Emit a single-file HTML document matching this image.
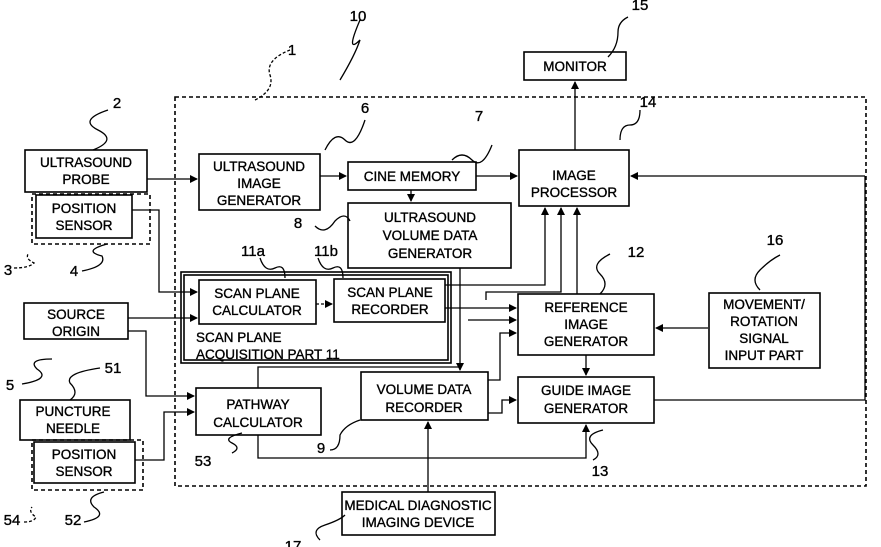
<!DOCTYPE html>
<html><head><meta charset="utf-8"><style>
html,body{margin:0;padding:0;background:#fff;}
svg{display:block}
text{font-family:"Liberation Sans",Arial,sans-serif;font-size:13.5px;fill:#000;stroke:#000;stroke-width:0.35;text-anchor:middle}
.n{font-size:15px}
</style></head><body>
<svg width="881" height="547" viewBox="0 0 881 547" xmlns="http://www.w3.org/2000/svg">
<defs><marker id="a" markerWidth="8" markerHeight="8" refX="7" refY="4" orient="auto" markerUnits="userSpaceOnUse"><path d="M0,0 L8,4 L0,8 z" fill="#000"/></marker></defs>
<g fill="none" stroke="#000" stroke-width="1.6">
<rect x="175" y="97" width="691" height="389" stroke-dasharray="4,3"/>
<rect x="32" y="194" width="118" height="50" stroke-dasharray="4,3"/>
<rect x="32" y="440" width="111" height="50" stroke-dasharray="4,3"/>
<rect x="524" y="52" width="102" height="28"/>
<rect x="25" y="150" width="122" height="42"/>
<rect x="36" y="195" width="96" height="43"/>
<rect x="199" y="154" width="121" height="56"/>
<rect x="348" y="162" width="128" height="28"/>
<rect x="519" y="150" width="110" height="56"/>
<rect x="348" y="203" width="163" height="65"/>
<rect x="181" y="272" width="270" height="91"/>
<rect x="184" y="275" width="264" height="85"/>
<rect x="199" y="280" width="117" height="44"/>
<rect x="334" y="279" width="111" height="43"/>
<rect x="518" y="294" width="136" height="61"/>
<rect x="709" y="293" width="111" height="75"/>
<rect x="24" y="303" width="104" height="36"/>
<rect x="196" y="388" width="125" height="47"/>
<rect x="361" y="372" width="127" height="48"/>
<rect x="518" y="377" width="136" height="46"/>
<rect x="20" y="400" width="110" height="40"/>
<rect x="34" y="442" width="101" height="41"/>
<rect x="342" y="492" width="153" height="43"/>
</g>
<g fill="none" stroke="#000" stroke-width="1.3">
<path d="M575 128 V82" marker-end="url(#a)"/>
<path d="M147 179 H197" marker-end="url(#a)"/>
<path d="M320 176 H346" marker-end="url(#a)"/>
<path d="M476 176 H517" marker-end="url(#a)"/>
<path d="M411 190 V201" marker-end="url(#a)"/>
<path d="M575 128 V150"/>
<path d="M865 176 H631" marker-end="url(#a)"/>
<path d="M132 210 H159 V292 H197" marker-end="url(#a)"/>
<path d="M128 318 H197" marker-end="url(#a)"/>
<path d="M128 331 H146 V396 H194" marker-end="url(#a)"/>
<path d="M316 304 H332" marker-end="url(#a)" stroke-dasharray="3,2"/>
<path d="M135 460 H164 V412 H194" marker-end="url(#a)"/>
<path d="M445 285 H545 V208" marker-end="url(#a)"/>
<path d="M486 300 V292 H561 V208" marker-end="url(#a)"/>
<path d="M577 294 V208" marker-end="url(#a)"/>
<path d="M445 308 H516" marker-end="url(#a)"/>
<path d="M460 268 V370" marker-end="url(#a)"/>
<path d="M468 320 H516" marker-end="url(#a)"/>
<path d="M488 380 H500 V333 H516" marker-end="url(#a)"/>
<path d="M258 388 V367 H460"/>
<path d="M488 413 H502 V400 H516" marker-end="url(#a)"/>
<path d="M586 355 V375" marker-end="url(#a)"/>
<path d="M708 328 H656" marker-end="url(#a)"/>
<path d="M654 400 H865 V176"/>
<path d="M258 435 V458 H586 V425" marker-end="url(#a)"/>
<path d="M428 492 V422" marker-end="url(#a)"/>
<path d="M340 80 q15-25 20-40 q-15 15 0 -20" />
<path d="M255 100 q20-10 15-25 q-5-15 20-25" stroke-dasharray="3,2"/>
<path d="M108 110 q-30 10 -10 20 q20 10 -5 20"/>
<path d="M325 150 q10-20 20-10 q10 10 20-20"/>
<path d="M452 160 q10-10 20 0 q10 10 20-15"/>
<path d="M620 140 q0-15 10-15 q10 0 10-15"/>
<path d="M608 57 q10 -10 10 -25 q0 -10 10 -15"/>
<path d="M315 226 q10 10 20 -5 q10-10 15 0"/>
<path d="M260 258 q5 15 15 10 q10-5 10 10"/>
<path d="M318 258 q5 15 15 10 q10-5 10 10"/>
<path d="M600 294 q10-10 0-20 q-10-10 10-20"/>
<path d="M760 290 q-10-10 0-20 q10-10 20-15"/>
<path d="M82 271 q25 -5 20 -15 q-20-5 5-12" />
<path d="M14 268 q15 0 20 -5 q-10-5 -5-10" stroke-dasharray="3,2"/>
<path d="M22 384 q30-5 15-15 q-10-10 15-10"/>
<path d="M100 368 q-35 5 -30 15 q10 10 0 17"/>
<path d="M232 453 q10 -5 0-10 q-10-5 10-10"/>
<path d="M330 450 q10 0 10-15 q5-10 20-15"/>
<path d="M593 460 q10-5 0-15 q-10-10 10-15"/>
<path d="M84 522 q25 -5 10 -15 q-10-10 10-15"/>
<path d="M24 522 q10 0 12-5 q-8-5 -4-10" stroke-dasharray="3,2"/>
<path d="M320 540 q-10-10 5-15 q15-5 20-10"/>
</g>
<text class="n" x="358" y="21">10</text>
<text class="n" x="640" y="10">15</text>
<text class="n" x="292" y="55">1</text>
<text class="n" x="117" y="108">2</text>
<text class="n" x="365" y="113">6</text>
<text class="n" x="479" y="121">7</text>
<text class="n" x="648" y="107">14</text>
<text class="n" x="298" y="228">8</text>
<text class="n" x="253" y="256">11a</text>
<text class="n" x="326" y="256">11b</text>
<text class="n" x="636" y="257">12</text>
<text class="n" x="775" y="245">16</text>
<text class="n" x="8" y="275">3</text>
<text class="n" x="74" y="276">4</text>
<text class="n" x="10" y="390">5</text>
<text class="n" x="113" y="373">51</text>
<text class="n" x="203" y="466">53</text>
<text class="n" x="321" y="453">9</text>
<text class="n" x="600" y="476">13</text>
<text class="n" x="12" y="525">54</text>
<text class="n" x="73" y="525">52</text>
<text x="575" y="71">MONITOR</text>
<text x="86" y="167">ULTRASOUND</text><text x="86" y="184">PROBE</text>
<text x="84" y="213">POSITION</text><text x="84" y="230">SENSOR</text>
<text x="259" y="171">ULTRASOUND</text><text x="259" y="188">IMAGE</text><text x="259" y="205">GENERATOR</text>
<text x="412" y="181">CINE MEMORY</text>
<text x="574" y="180">IMAGE</text><text x="574" y="197">PROCESSOR</text>
<text x="430" y="222">ULTRASOUND</text><text x="430" y="240">VOLUME DATA</text><text x="430" y="258">GENERATOR</text>
<text x="257" y="298">SCAN PLANE</text><text x="257" y="315">CALCULATOR</text>
<text x="390" y="297">SCAN PLANE</text><text x="390" y="314">RECORDER</text>
<text x="196" y="342" style="text-anchor:start">SCAN PLANE</text><text x="196" y="359" style="text-anchor:start">ACQUISITION PART 11</text>
<text x="586" y="312">REFERENCE</text><text x="586" y="329">IMAGE</text><text x="586" y="346">GENERATOR</text>
<text x="764" y="309">MOVEMENT/</text><text x="764" y="326">ROTATION</text><text x="764" y="343">SIGNAL</text><text x="764" y="360">INPUT PART</text>
<text x="76" y="319">SOURCE</text><text x="76" y="336">ORIGIN</text>
<text x="258" y="409">PATHWAY</text><text x="258" y="427">CALCULATOR</text>
<text x="424" y="394">VOLUME DATA</text><text x="424" y="412">RECORDER</text>
<text x="586" y="395">GUIDE IMAGE</text><text x="586" y="413">GENERATOR</text>
<text x="73" y="416">PUNCTURE</text><text x="73" y="433">NEEDLE</text>
<text x="84" y="459">POSITION</text><text x="84" y="476">SENSOR</text>
<text x="418" y="510">MEDICAL DIAGNOSTIC</text><text x="418" y="527">IMAGING DEVICE</text>
<text class="n" x="293" y="551">17</text>
</svg>
</body></html>
